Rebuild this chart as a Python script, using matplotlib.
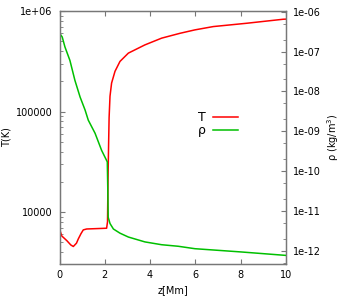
import matplotlib
matplotlib.use("Agg")
import matplotlib.pyplot as plt
from matplotlib.ticker import LogLocator, FuncFormatter, FixedLocator, NullFormatter

# Temperature profile
z_T = [0.00, 0.10, 0.32, 0.50, 0.61, 0.75, 0.83, 0.95, 1.05, 1.20, 1.50, 1.80, 2.08,
       2.12, 2.14, 2.17, 2.19, 2.23, 2.30, 2.45, 2.67, 3.04, 3.77, 4.51, 5.32, 5.98,
       6.79, 8.26, 9.88, 10.0]
T_vals = [6800, 5780, 5200, 4700, 4540, 4900, 5400, 6100, 6640, 6780, 6820, 6860, 6900,
          8000, 20000, 50000, 87000, 142000, 192000, 251000, 315000, 381000, 460000,
          537000, 600000, 649000, 700000, 755000, 828000, 830000]

# Density profile
z_rho = [0.00, 0.05, 0.12, 0.24, 0.46, 0.68, 0.91, 1.13, 1.27, 1.57, 1.86, 2.11,
         2.13, 2.15, 2.23, 2.38, 2.67, 3.04, 3.77, 4.51, 5.24, 5.98, 8.00, 10.0]
rho_vals = [2.72e-7, 2.65e-7, 2.33e-7, 1.31e-7, 6.0e-8, 1.9e-8, 7.2e-9, 3.4e-9, 1.9e-9,
            8.9e-10, 3.3e-10, 1.7e-10, 4e-11, 6.9e-12, 4.8e-12, 3.5e-12, 2.75e-12,
            2.2e-12, 1.66e-12, 1.41e-12, 1.29e-12, 1.12e-12, 9.3e-13, 7.6e-13]

x_ticks = [0, 2, 4, 6, 8, 10]
T_ticks = [1e4, 1e5, 1e6]
rho_ticks = [1e-12, 1e-11, 1e-10, 1e-9, 1e-8, 1e-7, 1e-6]

RED = '#ff0000'
GREEN = '#00c000'
SPINE = '#777777'
FS = 7

fig = plt.figure(figsize=(3.54, 3.0), dpi=100)
ax = fig.add_axes([59.5/354, 1-264/300, (286-59.5)/354, (264-11)/300])
ax2 = ax.twinx()

lT, = ax.plot(z_T, T_vals, color=RED, lw=1.1)
lr, = ax2.plot(z_rho, rho_vals, color=GREEN, lw=1.1)

ax.set_xlim(0, 10)
ax.set_yscale('log')
ax.set_ylim(3040, 1e6)
ax2.set_yscale('log')
ax2.set_ylim(10**-12.335, 10**-5.98)

ax.xaxis.set_major_locator(FixedLocator(x_ticks))
ax.set_xticklabels([str(v) for v in x_ticks])
ax.yaxis.set_major_locator(FixedLocator(T_ticks))
ax.yaxis.set_major_formatter(FuncFormatter(lambda v, p: '1e+06' if v >= 1e6 else str(int(round(v)))))
ax.yaxis.set_minor_locator(LogLocator(base=10, subs=(2, 3, 4, 5, 6, 7, 8, 9), numticks=20))
ax.yaxis.set_minor_formatter(NullFormatter())

ax2.yaxis.set_major_locator(FixedLocator(rho_ticks))
ax2.yaxis.set_major_formatter(FuncFormatter(lambda v, p: f'{v:.0e}'))
ax2.yaxis.set_minor_locator(LogLocator(base=10, subs=(2, 5), numticks=20))
ax2.yaxis.set_minor_formatter(NullFormatter())

for a in (ax, ax2):
    for s in a.spines.values():
        s.set_color(SPINE)
        s.set_linewidth(0.9)

ax.tick_params(axis='x', which='major', direction='in', top=True, length=3.5,
               color=SPINE, labelsize=FS, pad=4)
ax.tick_params(axis='y', which='major', direction='in', left=True, right=False,
               length=3.5, color=SPINE, labelsize=FS, pad=5)
ax.tick_params(axis='y', which='minor', direction='in', left=True, right=False,
               length=2, color=SPINE)
ax2.tick_params(axis='y', which='major', direction='in', right=True, length=3.5,
                color=SPINE, labelsize=FS, pad=5)
ax2.tick_params(axis='y', which='minor', direction='in', right=True, length=2,
                color=SPINE)

ax.set_xlabel('z[Mm]', fontsize=FS, labelpad=4)
ax.set_ylabel('T(K)', fontsize=FS, labelpad=3)
ax2.set_ylabel('ρ (kg/m$^3$)', fontsize=FS, labelpad=3)

leg = ax.legend([lT, lr], ['T', 'ρ'], loc='upper left', bbox_to_anchor=(0.59, 0.625),
                frameon=False, markerfirst=False, fontsize=9, handlelength=2.0,
                labelspacing=0.0, handletextpad=0.55, borderaxespad=0)

fig.savefig('out.png', dpi=100)
